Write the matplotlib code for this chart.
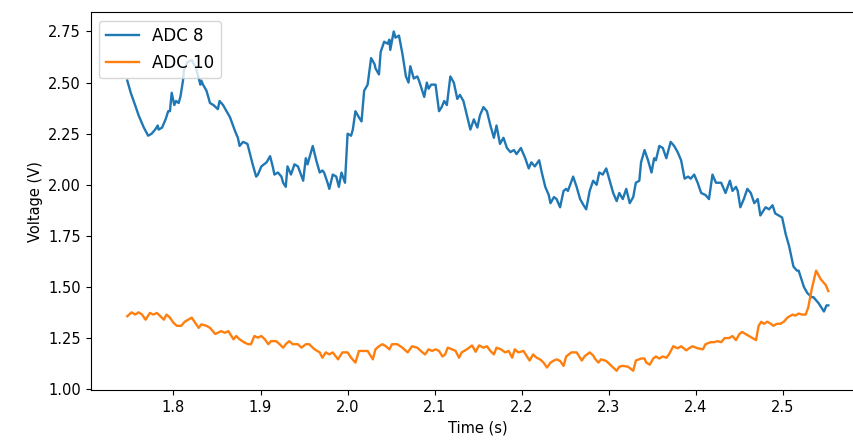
import numpy as np
import matplotlib.pyplot as plt

# ADC 8 samples (time in s, voltage in V)
t_adc8 = [1.747, 1.751, 1.756, 1.760, 1.766, 1.771, 1.775, 1.779, 1.782, 1.783,
          1.787, 1.791, 1.794, 1.796, 1.798, 1.801, 1.803, 1.806, 1.808, 1.811,
          1.812, 1.816, 1.821, 1.826, 1.831, 1.832, 1.834, 1.838, 1.842, 1.846,
          1.851, 1.853, 1.857, 1.861, 1.865, 1.871, 1.874, 1.876, 1.880, 1.885,
          1.888, 1.891, 1.895, 1.897, 1.901, 1.907, 1.911, 1.914, 1.916, 1.920,
          1.924, 1.926, 1.929, 1.931, 1.935, 1.939, 1.943, 1.949, 1.952, 1.954,
          1.958, 1.960, 1.964, 1.968, 1.971, 1.973, 1.977, 1.979, 1.983, 1.987,
          1.990, 1.993, 1.997, 2.000, 2.004, 2.006, 2.009, 2.013, 2.016, 2.019,
          2.023, 2.027, 2.031, 2.032, 2.036, 2.038, 2.042, 2.046, 2.048, 2.049,
          2.053, 2.055, 2.059, 2.063, 2.067, 2.070, 2.072, 2.076, 2.080, 2.082,
          2.088, 2.091, 2.093, 2.096, 2.101, 2.105, 2.108, 2.111, 2.114, 2.118,
          2.122, 2.126, 2.129, 2.133, 2.137, 2.141, 2.145, 2.149, 2.152, 2.156,
          2.160, 2.164, 2.168, 2.171, 2.175, 2.179, 2.183, 2.187, 2.191, 2.194,
          2.199, 2.204, 2.208, 2.211, 2.215, 2.220, 2.223, 2.227, 2.231, 2.233,
          2.237, 2.240, 2.244, 2.248, 2.251, 2.253, 2.259, 2.263, 2.267, 2.271,
          2.274, 2.278, 2.282, 2.286, 2.289, 2.293, 2.297, 2.301, 2.305, 2.309,
          2.312, 2.316, 2.320, 2.324, 2.328, 2.331, 2.335, 2.337, 2.341, 2.345,
          2.349, 2.352, 2.354, 2.358, 2.362, 2.366, 2.371, 2.375, 2.379, 2.383,
          2.387, 2.391, 2.394, 2.398, 2.402, 2.406, 2.411, 2.415, 2.419, 2.423,
          2.429, 2.434, 2.439, 2.442, 2.446, 2.448, 2.451, 2.455, 2.459, 2.463,
          2.467, 2.471, 2.474, 2.480, 2.484, 2.488, 2.491, 2.495, 2.499, 2.503,
          2.507, 2.512, 2.516, 2.518, 2.524, 2.528, 2.533, 2.535, 2.541, 2.547,
          2.550, 2.552]
v_adc8 = [2.51, 2.45, 2.39, 2.34, 2.28, 2.24, 2.25, 2.27, 2.29, 2.27,
          2.28, 2.32, 2.36, 2.36, 2.45, 2.39, 2.41, 2.40, 2.43, 2.51,
          2.56, 2.60, 2.61, 2.57, 2.49, 2.51, 2.49, 2.46, 2.40, 2.39,
          2.37, 2.41, 2.39, 2.36, 2.33, 2.26, 2.23, 2.19, 2.21, 2.20,
          2.15, 2.10, 2.04, 2.05, 2.09, 2.11, 2.14, 2.09, 2.05, 2.06,
          2.04, 2.01, 1.99, 2.09, 2.05, 2.10, 2.09, 2.02, 2.13, 2.10,
          2.16, 2.19, 2.12, 2.06, 2.07, 2.06, 2.01, 1.98, 2.05, 2.04,
          1.99, 2.06, 2.01, 2.25, 2.24, 2.27, 2.36, 2.33, 2.31, 2.46,
          2.49, 2.62, 2.59, 2.57, 2.54, 2.65, 2.70, 2.69, 2.71, 2.66,
          2.75, 2.72, 2.73, 2.64, 2.53, 2.50, 2.58, 2.52, 2.53, 2.51,
          2.43, 2.50, 2.47, 2.49, 2.49, 2.36, 2.38, 2.41, 2.39, 2.53,
          2.50, 2.42, 2.44, 2.41, 2.34, 2.27, 2.32, 2.28, 2.34, 2.38,
          2.36, 2.29, 2.23, 2.29, 2.20, 2.23, 2.18, 2.16, 2.17, 2.15,
          2.18, 2.13, 2.08, 2.11, 2.09, 2.12, 2.06, 1.99, 1.95, 1.91,
          1.94, 1.93, 1.89, 1.97, 1.98, 1.97, 2.04, 1.99, 1.93, 1.90,
          1.88, 1.97, 2.02, 2.00, 2.06, 2.05, 2.08, 2.02, 1.96, 1.92,
          1.96, 1.93, 1.98, 1.91, 1.94, 2.01, 2.02, 2.11, 2.17, 2.12,
          2.06, 2.13, 2.12, 2.19, 2.18, 2.13, 2.21, 2.19, 2.16, 2.12,
          2.03, 2.04, 2.03, 2.05, 2.01, 1.96, 1.95, 1.93, 2.05, 2.01,
          2.01, 1.96, 2.02, 1.97, 1.99, 1.97, 1.89, 1.93, 1.98, 1.96,
          1.91, 1.93, 1.85, 1.89, 1.88, 1.90, 1.86, 1.85, 1.84, 1.76,
          1.70, 1.60, 1.58, 1.58, 1.50, 1.47, 1.45, 1.45, 1.42, 1.38,
          1.41, 1.41]

# ADC 10 samples
t_adc10 = [1.747, 1.752, 1.756, 1.760, 1.764, 1.768, 1.773, 1.777, 1.781, 1.785,
           1.789, 1.792, 1.796, 1.800, 1.804, 1.809, 1.813, 1.817, 1.821, 1.825,
           1.829, 1.832, 1.838, 1.842, 1.848, 1.851, 1.855, 1.859, 1.863, 1.869,
           1.872, 1.876, 1.882, 1.886, 1.889, 1.893, 1.897, 1.901, 1.905, 1.909,
           1.912, 1.918, 1.922, 1.926, 1.929, 1.933, 1.937, 1.943, 1.947, 1.952,
           1.956, 1.962, 1.968, 1.971, 1.975, 1.979, 1.983, 1.989, 1.994, 2.000,
           2.004, 2.009, 2.013, 2.019, 2.023, 2.029, 2.032, 2.036, 2.040, 2.044,
           2.048, 2.051, 2.057, 2.063, 2.069, 2.074, 2.080, 2.086, 2.089, 2.093,
           2.097, 2.101, 2.105, 2.109, 2.112, 2.115, 2.120, 2.124, 2.128, 2.131,
           2.137, 2.143, 2.147, 2.151, 2.156, 2.160, 2.164, 2.168, 2.171, 2.176,
           2.181, 2.185, 2.189, 2.192, 2.196, 2.202, 2.206, 2.209, 2.213, 2.217,
           2.221, 2.225, 2.229, 2.233, 2.236, 2.240, 2.244, 2.248, 2.251, 2.257,
           2.263, 2.269, 2.272, 2.278, 2.282, 2.284, 2.288, 2.291, 2.297, 2.303,
           2.309, 2.312, 2.316, 2.322, 2.328, 2.331, 2.337, 2.341, 2.343, 2.347,
           2.351, 2.354, 2.358, 2.362, 2.366, 2.369, 2.374, 2.379, 2.383, 2.389,
           2.392, 2.396, 2.402, 2.408, 2.411, 2.417, 2.421, 2.425, 2.429, 2.433,
           2.438, 2.442, 2.446, 2.450, 2.453, 2.457, 2.461, 2.465, 2.469, 2.472,
           2.475, 2.478, 2.482, 2.486, 2.489, 2.493, 2.497, 2.501, 2.505, 2.511,
           2.514, 2.518, 2.522, 2.526, 2.529, 2.533, 2.538, 2.543, 2.549, 2.552]
v_adc10 = [1.357, 1.376, 1.365, 1.376, 1.365, 1.340, 1.373, 1.365, 1.373, 1.357,
           1.340, 1.365, 1.350, 1.325, 1.310, 1.310, 1.330, 1.340, 1.350, 1.325,
           1.300, 1.317, 1.310, 1.300, 1.270, 1.276, 1.284, 1.276, 1.284, 1.244,
           1.260, 1.244, 1.227, 1.220, 1.220, 1.260, 1.252, 1.260, 1.244, 1.220,
           1.235, 1.235, 1.220, 1.203, 1.220, 1.235, 1.220, 1.220, 1.203, 1.220,
           1.220, 1.195, 1.180, 1.154, 1.180, 1.170, 1.180, 1.146, 1.180, 1.180,
           1.154, 1.130, 1.187, 1.187, 1.187, 1.146, 1.195, 1.210, 1.220, 1.210,
           1.195, 1.220, 1.220, 1.203, 1.180, 1.210, 1.203, 1.180, 1.170, 1.195,
           1.187, 1.195, 1.187, 1.160, 1.170, 1.203, 1.195, 1.187, 1.154, 1.180,
           1.195, 1.214, 1.183, 1.214, 1.203, 1.210, 1.187, 1.170, 1.203, 1.195,
           1.180, 1.187, 1.154, 1.195, 1.180, 1.187, 1.160, 1.140, 1.170, 1.154,
           1.146, 1.130, 1.106, 1.130, 1.138, 1.146, 1.138, 1.114, 1.160, 1.180,
           1.180, 1.140, 1.160, 1.180, 1.165, 1.150, 1.130, 1.146, 1.138, 1.114,
           1.090, 1.110, 1.114, 1.110, 1.090, 1.140, 1.150, 1.150, 1.130, 1.120,
           1.150, 1.160, 1.150, 1.160, 1.154, 1.170, 1.210, 1.200, 1.210, 1.190,
           1.200, 1.210, 1.200, 1.195, 1.220, 1.230, 1.230, 1.235, 1.230, 1.250,
           1.250, 1.260, 1.240, 1.270, 1.280, 1.270, 1.260, 1.250, 1.240, 1.310,
           1.330, 1.320, 1.330, 1.320, 1.310, 1.320, 1.320, 1.330, 1.350, 1.365,
           1.360, 1.370, 1.365, 1.365, 1.400, 1.490, 1.580, 1.540, 1.510, 1.480]

fig = plt.figure(figsize=(8.54, 4.45), dpi=100)
# axes runs off the right edge, like the cropped original
ax = fig.add_axes([0.1062, 0.1236, 0.9055, 0.8488])

ax.plot(t_adc8, v_adc8, color='tab:blue', linewidth=1.7, label='ADC 8')
ax.plot(t_adc10, v_adc10, color='tab:orange', linewidth=1.7, label='ADC 10')

ax.set_xlim(1.705, 2.593)
ax.set_ylim(0.996, 2.844)
ax.set_xticks([1.8, 1.9, 2.0, 2.1, 2.2, 2.3, 2.4, 2.5])
ax.set_yticks([1.0, 1.25, 1.5, 1.75, 2.0, 2.25, 2.5, 2.75])
ax.tick_params(labelsize=10.5)
ax.set_xlabel('Time (s)', fontsize=10.5)
ax.set_ylabel('Voltage (V)', fontsize=10.5)
ax.legend(loc='upper left', fontsize=12)

fig.savefig('out.png', dpi=100)
